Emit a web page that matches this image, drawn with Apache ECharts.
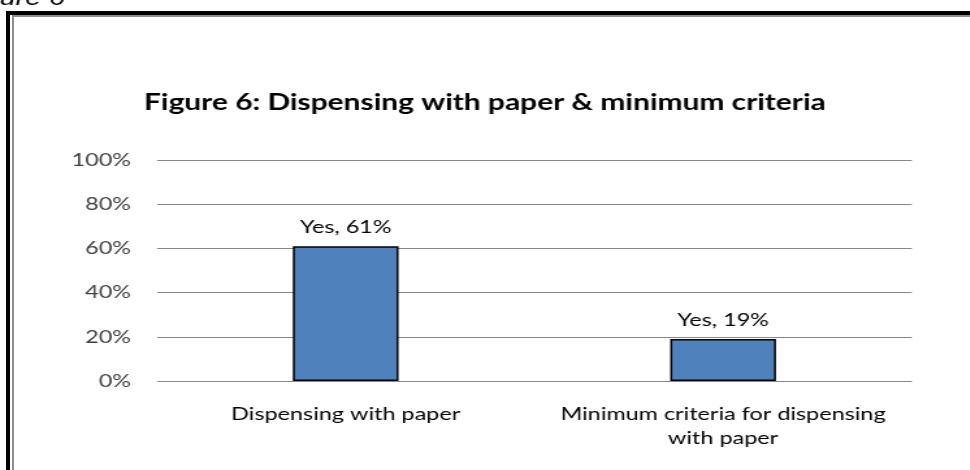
<!DOCTYPE html>
<html>
<head>
<meta charset="utf-8">
<title>Dispensing with paper & minimum criteria</title>
<script src="https://cdn.jsdelivr.net/npm/echarts@6/dist/echarts.min.js"></script>
<style>
  html, body { margin: 0; padding: 0; background: #ffffff; overflow: hidden; }
  #stage { position: relative; width: 970px; height: 470px; overflow: hidden; background: #ffffff; }
  /* chart is laid out narrower and widened to the page, giving the wide lettering */
  #chart { position: absolute; left: 0; top: 0; width: 746.15px; height: 470px;
           transform: scaleX(1.3); transform-origin: 0 0; }
  .rule { position: absolute; }
</style>
</head>
<body>
<div id="stage">
  <div id="chart"></div>
  <!-- double frame: black outer rule, gray inner rule -->
  <div class="rule" style="left:6px;top:11px;width:964px;height:4px;background:#000;"></div>
  <div class="rule" style="left:6px;top:11px;width:4px;height:459px;background:#000;"></div>
  <div class="rule" style="left:12px;top:15px;width:958px;height:2px;background:#8c8c8c;"></div>
  <div class="rule" style="left:12px;top:15px;width:2px;height:455px;background:#8c8c8c;"></div>
</div>
<script>
// Survey categories and the share answering "Yes" (percent)
const categories = ['Dispensing with paper', 'Minimum criteria for dispensing\nwith paper'];
const yesShare = [61, 19];
const answerLabel = 'Yes';

// Value axis ticks
const axisMin = 0;
const axisMax = 100;
const axisStep = 20;

const SX = 1.3; // horizontal widening applied to the chart box
const chart = echarts.init(document.getElementById('chart'), null, { renderer: 'canvas' });

const font = 'Lato, "Liberation Sans", sans-serif';

chart.setOption({
  backgroundColor: 'transparent',
  animation: false,
  title: {
    text: 'Figure 6: Dispensing with paper & minimum criteria',
    left: 'center',
    top: 86,
    textStyle: { fontFamily: font, fontWeight: 'bold', fontSize: 23, color: '#000000' }
  },
  grid: { left: 157 / SX, right: 58 / SX, top: 160, bottom: 89, containLabel: false },
  xAxis: {
    type: 'category',
    data: categories,
    axisLine: { show: false },
    axisTick: { show: false },
    axisLabel: {
      margin: 21,
      fontFamily: font,
      fontSize: 18,
      lineHeight: 24,
      color: '#000000',
      interval: 0
    }
  },
  yAxis: {
    type: 'value',
    min: axisMin,
    max: axisMax,
    interval: axisStep,
    axisLine: { show: false },
    axisTick: { show: false },
    axisLabel: {
      margin: 26 / SX,
      fontFamily: font,
      fontSize: 18,
      color: '#404040',
      formatter: v => v + '%'
    },
    splitLine: { lineStyle: { color: '#868686', width: 1 } }
  },
  series: [{
    type: 'bar',
    data: yesShare,
    barWidth: '28%',
    itemStyle: { color: '#4f81bd', borderColor: '#000000', borderWidth: 1.5 },
    label: {
      show: true,
      position: 'top',
      distance: 10,
      fontFamily: font,
      fontSize: 18,
      color: '#000000',
      formatter: p => answerLabel + ', ' + p.value + '%'
    }
  }],
  graphic: [
    // caption fragment above the frame
    {
      type: 'text', x: 50, y: 10,
      style: {
        text: 'Figure 6', fill: '#000000',
        font: 'italic 22px "Liberation Sans", Arial, sans-serif',
        textAlign: 'right', textVerticalAlign: 'bottom'
      }
    }
  ]
});
</script>
</body>
</html>
